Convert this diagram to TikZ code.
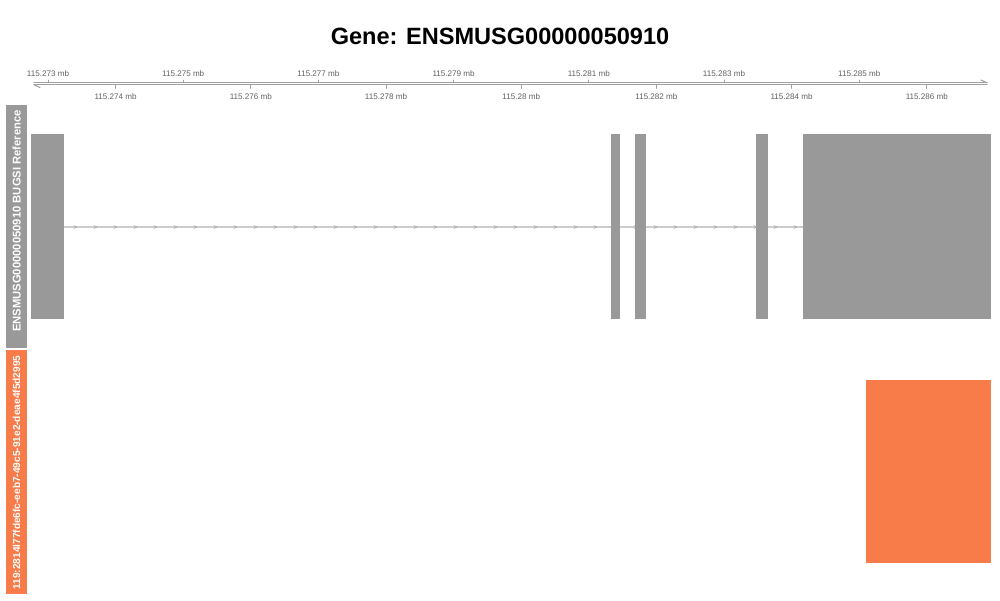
\documentclass[tikz,border=0pt]{standalone}
\usepackage{fontspec}
\setmainfont{Liberation Sans}
\definecolor{exoncolor}{HTML}{999999}
\definecolor{introncolor}{HTML}{CCCCCC}
\definecolor{axiscolor}{HTML}{A0A0A0}
\definecolor{ticktext}{HTML}{606060}
\definecolor{readcolor}{HTML}{F87B4A}

\begin{document}
\begin{tikzpicture}[
    x=0.02cm, y=-0.02cm,
    line join=round,
    line cap=round,
    ticklabel/.style={font=\fontsize{4.6}{5}\selectfont, text=ticktext, inner sep=0pt},
    tracklabel/.style={font=\fontsize{6.4}{7}\selectfont\bfseries, text=white, rotate=90, inner sep=0pt}
]
    \useasboundingbox (0,0) rectangle (1000,600);

    % Title
    \node[font=\fontsize{13.4}{15}\selectfont\bfseries] (title) at (500,36) {Gene: ENSMUSG00000050910};

    % --- Genome axis (double line with half arrow heads) ---
    \draw[axiscolor, line width=0.6pt] (34,82.8) -- (987,82.8);
    \draw[axiscolor, line width=0.6pt] (34,84.8) -- (987,84.8);
    \draw[axiscolor, line width=0.6pt] (34,84.8) -- (40,87.5);  % left barb
    \draw[axiscolor, line width=0.6pt] (987,82.8) -- (981,80);  % right barb

    % Ticks above the axis (odd kb)
    \foreach \k/\lab in {0/115.273, 2/115.275, 4/115.277, 6/115.279, 8/115.281, 10/115.283, 12/115.285} {
        \draw[axiscolor, line width=0.5pt] (48+67.6*\k,80) -- (48+67.6*\k,82.8);
        \node[ticklabel] at (48+67.6*\k,74) {\lab{} mb};
    }
    % Ticks below the axis (even kb)
    \foreach \k/\lab in {1/115.274, 3/115.276, 5/115.278, 7/115.28, 9/115.282, 11/115.284, 13/115.286} {
        \draw[axiscolor, line width=0.5pt] (48+67.6*\k,84.8) -- (48+67.6*\k,88.5);
        \node[ticklabel] at (48+67.6*\k,97) {\lab{} mb};
    }

    % --- Track labels ---
    \fill[exoncolor] (6,105) rectangle (27,348);
    \node[tracklabel] (reflabel) at (16.5,221) {ENSMUSG00000050910 BUGSI Reference};
    \fill[readcolor] (6,349.5) rectangle (27,594);
    \node[tracklabel, font=\fontsize{5.75}{6}\selectfont\bfseries] (readlabel) at (16.5,472.5) {119:2814l77fde6fc-eeb7-49c5-91e2-deae4f5d2995};

    % --- Reference gene model ---
    % Intron line with strand arrows
    \draw[introncolor, line width=0.8pt] (64,227) -- (803,227);
    \foreach \i in {0,...,36} {
        \draw[exoncolor!80, line width=0.4pt] (74+20*\i,225.6) -- (77+20*\i,227) -- (74+20*\i,228.4);
    }
    % Exons
    \fill[exoncolor] (31,134) rectangle (64,319);
    \fill[exoncolor] (611,134) rectangle (619.5,319);
    \fill[exoncolor] (635,134) rectangle (645.5,319);
    \fill[exoncolor] (756,134) rectangle (768,319);
    \fill[exoncolor] (803,134) rectangle (991,319);

    % --- Read alignment ---
    \fill[readcolor] (865.5,379.5) rectangle (991,563);

\end{tikzpicture}
\end{document}
